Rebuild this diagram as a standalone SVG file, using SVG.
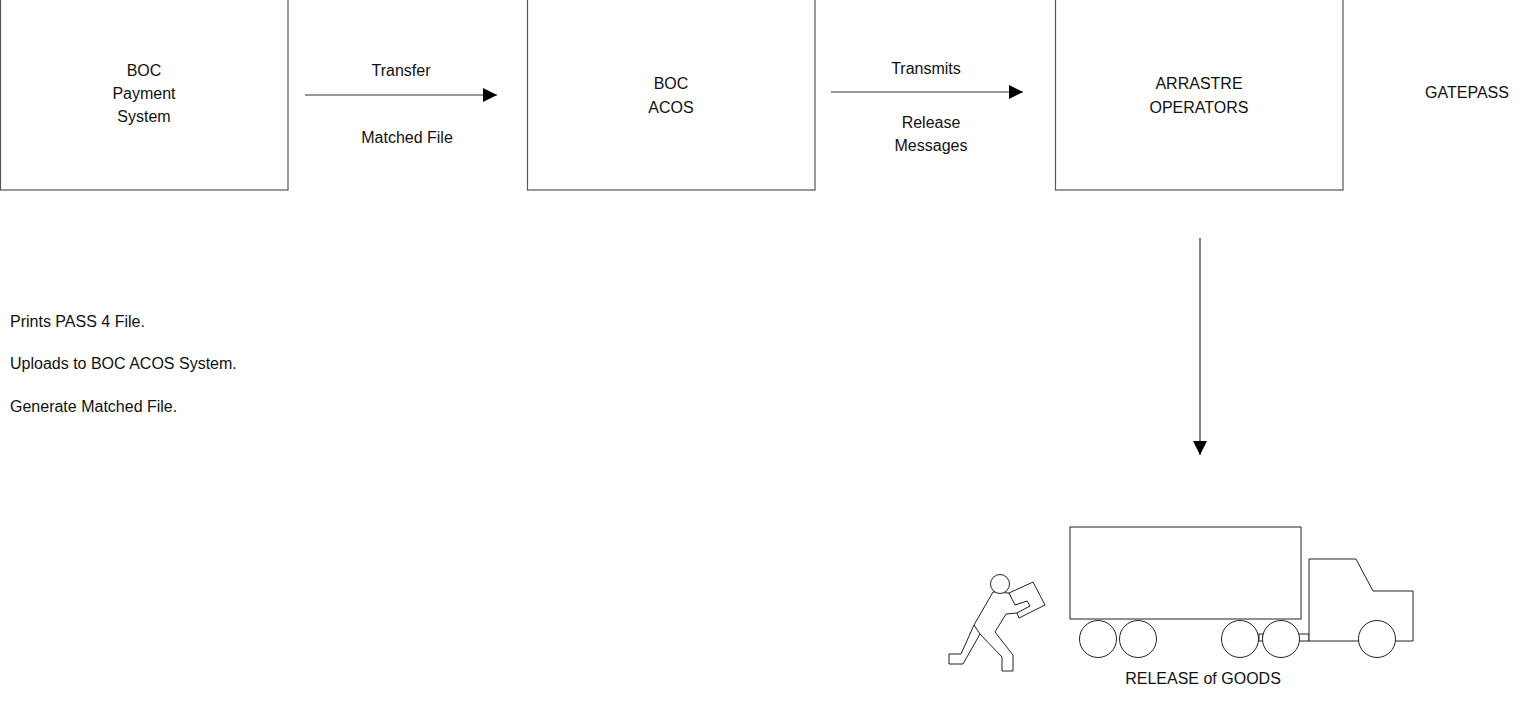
<svg xmlns="http://www.w3.org/2000/svg" width="1520" height="714" viewBox="0 0 1520 714">
  <style>
    .box { fill: #ffffff; stroke: #555555; stroke-width: 1.2; }
    .lbl { font-family: "Liberation Sans", Arial, sans-serif; font-size: 16px; fill: #111111; }
    .mid { text-anchor: middle; }
    .edge { stroke: #333333; stroke-width: 1.2; fill: none; }
    .ink { stroke: #222222; stroke-width: 1; fill: #ffffff; stroke-linejoin: miter; }
  </style>
  <defs>
    <marker id="arrow" viewBox="0 0 14 14" refX="14" refY="7" markerWidth="14" markerHeight="14" markerUnits="userSpaceOnUse" orient="auto">
      <path d="M0,0 L14,7 L0,14 Z" fill="#000000"/>
    </marker>
  </defs>

  <rect width="1520" height="714" fill="#ffffff"/>

  <!-- process boxes -->
  <g id="node-payment">
    <rect class="box" x="0.5" y="-10" width="287.5" height="200"/>
    <text class="lbl mid" x="144" y="76">BOC</text>
    <text class="lbl mid" x="144" y="99">Payment</text>
    <text class="lbl mid" x="144" y="122">System</text>
  </g>
  <g id="node-acos">
    <rect class="box" x="527.5" y="-10" width="287.5" height="200"/>
    <text class="lbl mid" x="671" y="89">BOC</text>
    <text class="lbl mid" x="671" y="113">ACOS</text>
  </g>
  <g id="node-arrastre">
    <rect class="box" x="1055.5" y="-10" width="287.5" height="200"/>
    <text class="lbl mid" x="1199" y="89">ARRASTRE</text>
    <text class="lbl mid" x="1199" y="113">OPERATORS</text>
  </g>
  <g id="node-gatepass">
    <text class="lbl mid" x="1467" y="98">GATEPASS</text>
  </g>

  <!-- steps performed before the transfer -->
  <g id="node-steps">
    <text class="lbl" x="10" y="327">Prints PASS 4 File.</text>
    <text class="lbl" x="10" y="369">Uploads to BOC ACOS System.</text>
    <text class="lbl" x="10" y="412">Generate Matched File.</text>
  </g>

  <!-- connectors -->
  <g id="connectors">
    <line class="edge" x1="305" y1="95" x2="497" y2="95" marker-end="url(#arrow)"/>
    <text class="lbl mid" x="401" y="76">Transfer</text>
    <text class="lbl mid" x="407" y="143">Matched File</text>

    <line class="edge" x1="831" y1="92" x2="1023" y2="92" marker-end="url(#arrow)"/>
    <text class="lbl mid" x="926" y="74">Transmits</text>
    <text class="lbl mid" x="931" y="128">Release</text>
    <text class="lbl mid" x="931" y="151">Messages</text>

    <line class="edge" x1="1200" y1="238" x2="1200" y2="455" marker-end="url(#arrow)"/>
  </g>

  <!-- release of goods: porter and truck -->
  <g id="node-release">
    <!-- carton -->
    <polygon class="ink" points="1009,593 1033,582 1045,605 1019,618"/>
    <!-- porter -->
    <polygon class="ink" points="993,592 974,625 961,654 949,654 949,664 963,664 980,634 1002,657 1002,671 1013,671 1013,655 995,632 1006,614 1017,613 1030,606 1027,601 1015,605 1009,593"/>
    <line class="ink" x1="974" y1="625" x2="980" y2="634"/>
    <circle class="ink" cx="1000" cy="584" r="9.5"/>

    <!-- trailer -->
    <rect class="ink" x="1070" y="527" width="231" height="92"/>
    <!-- hitch and axle couplings -->
    <rect class="ink" x="1298" y="634" width="11" height="7"/>
    <rect class="ink" x="1259" y="634" width="4" height="7"/>
    <!-- cab -->
    <polygon class="ink" points="1309,641 1309,559 1356,559 1373,591 1413,591 1413,641"/>
    <!-- wheels -->
    <circle class="ink" cx="1098" cy="639" r="18.5"/>
    <circle class="ink" cx="1138" cy="639" r="18.5"/>
    <circle class="ink" cx="1240" cy="639" r="18.5"/>
    <circle class="ink" cx="1281" cy="639" r="18.5"/>
    <circle class="ink" cx="1377" cy="639" r="18.5"/>

    <text class="lbl mid" x="1203" y="684">RELEASE of GOODS</text>
  </g>
</svg>
